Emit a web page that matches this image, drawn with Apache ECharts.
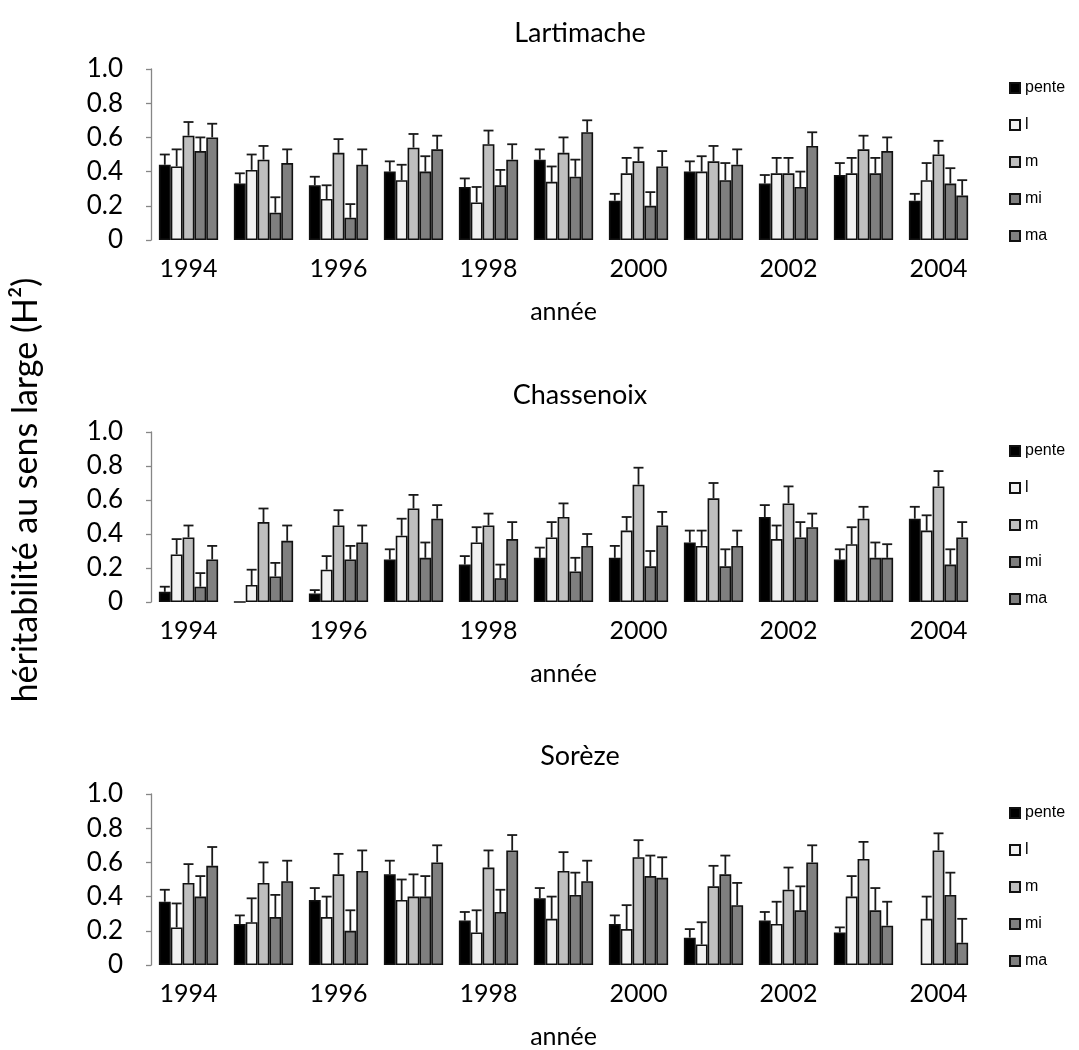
<!DOCTYPE html>
<html>
<head>
<meta charset="utf-8">
<script src="https://cdn.jsdelivr.net/npm/echarts@6/dist/echarts.min.js"></script>
<style>
  html, body { margin: 0; padding: 0; background: #fff; }
  #chart { width: 1079px; height: 1050px; }
</style>
</head>
<body>
<div id="chart"></div>
<script>
const years = ['1994', '1995', '1996', '1997', '1998', '1999', '2000', '2001', '2002', '2003', '2004'];
const seriesNames = ['pente', 'l', 'm', 'mi', 'ma'];
const sites = ['Lartimache', 'Chassenoix', 'Sorèze'];

// bar heights, one row per series (pente, l, m, mi, ma)
const lartVal = [
    [0.44, 0.33, 0.32, 0.40, 0.31, 0.47, 0.23, 0.40, 0.33, 0.38, 0.23],
    [0.43, 0.41, 0.24, 0.35, 0.22, 0.34, 0.39, 0.40, 0.39, 0.39, 0.35],
    [0.61, 0.47, 0.51, 0.54, 0.56, 0.51, 0.46, 0.46, 0.39, 0.53, 0.50],
    [0.52, 0.16, 0.13, 0.40, 0.32, 0.37, 0.20, 0.35, 0.31, 0.39, 0.33],
    [0.60, 0.45, 0.44, 0.53, 0.47, 0.63, 0.43, 0.44, 0.55, 0.52, 0.26],
];
// top of the error bar
const lartTop = [
    [0.50, 0.39, 0.37, 0.46, 0.36, 0.53, 0.27, 0.46, 0.38, 0.45, 0.27],
    [0.53, 0.50, 0.32, 0.44, 0.31, 0.43, 0.48, 0.49, 0.48, 0.48, 0.45],
    [0.69, 0.55, 0.59, 0.62, 0.64, 0.60, 0.54, 0.55, 0.48, 0.61, 0.58],
    [0.60, 0.25, 0.21, 0.49, 0.41, 0.47, 0.28, 0.45, 0.40, 0.48, 0.42],
    [0.68, 0.53, 0.53, 0.61, 0.56, 0.70, 0.52, 0.53, 0.63, 0.60, 0.35],
];

const chasVal = [
    [0.06, 0.00, 0.05, 0.25, 0.22, 0.26, 0.26, 0.35, 0.50, 0.25, 0.49],
    [0.28, 0.10, 0.19, 0.39, 0.35, 0.38, 0.42, 0.33, 0.37, 0.34, 0.42],
    [0.38, 0.47, 0.45, 0.55, 0.45, 0.50, 0.69, 0.61, 0.58, 0.49, 0.68],
    [0.09, 0.15, 0.25, 0.26, 0.14, 0.18, 0.21, 0.21, 0.38, 0.26, 0.22],
    [0.25, 0.36, 0.35, 0.49, 0.37, 0.33, 0.45, 0.33, 0.44, 0.26, 0.38],
];
const chasTop = [
    [0.09, null, 0.07, 0.31, 0.27, 0.32, 0.33, 0.42, 0.57, 0.31, 0.56],
    [0.37, 0.19, 0.27, 0.49, 0.44, 0.47, 0.50, 0.42, 0.45, 0.44, 0.51],
    [0.45, 0.55, 0.54, 0.63, 0.52, 0.58, 0.79, 0.70, 0.68, 0.56, 0.77],
    [0.17, 0.23, 0.33, 0.35, 0.22, 0.26, 0.30, 0.31, 0.47, 0.35, 0.31],
    [0.33, 0.45, 0.45, 0.57, 0.47, 0.40, 0.53, 0.42, 0.52, 0.34, 0.47],
];

const sorVal = [
    [0.37, 0.24, 0.38, 0.53, 0.26, 0.39, 0.24, 0.16, 0.26, 0.19, null],
    [0.22, 0.25, 0.28, 0.38, 0.19, 0.27, 0.21, 0.12, 0.24, 0.40, 0.27],
    [0.48, 0.48, 0.53, 0.40, 0.57, 0.55, 0.63, 0.46, 0.44, 0.62, 0.67],
    [0.40, 0.28, 0.20, 0.40, 0.31, 0.41, 0.52, 0.53, 0.32, 0.32, 0.41],
    [0.58, 0.49, 0.55, 0.60, 0.67, 0.49, 0.51, 0.35, 0.60, 0.23, 0.13],
];
const sorTop = [
    [0.44, 0.29, 0.45, 0.61, 0.31, 0.45, 0.29, 0.21, 0.31, 0.22, null],
    [0.36, 0.39, 0.40, 0.50, 0.32, 0.40, 0.35, 0.25, 0.37, 0.52, 0.40],
    [0.59, 0.60, 0.65, 0.53, 0.67, 0.66, 0.73, 0.58, 0.57, 0.72, 0.77],
    [0.52, 0.41, 0.32, 0.52, 0.44, 0.54, 0.64, 0.64, 0.46, 0.45, 0.54],
    [0.69, 0.61, 0.67, 0.70, 0.76, 0.61, 0.63, 0.48, 0.70, 0.37, 0.27],
];

const panelVals = [lartVal, chasVal, sorVal];
const panelTops = [lartTop, chasTop, sorTop];

const fills = ['#000000', '#f2f2f2', '#bfbfbf', '#7f7f7f', '#808080'];
const FONT = 'Lato';
const CAT_GAP = 0.21;

// panel layout: [top, height]
const panels = [[69, 171], [432, 170], [794, 172]];

const grid = panels.map(([top, height]) => ({ left: 151, width: 825, top, height }));

const xAxis = panels.map((p, i) => ({
    type: 'category',
    gridIndex: i,
    data: years,
    axisLine: { show: false },
    axisTick: { show: false },
    axisLabel: { interval: 1, fontFamily: FONT, fontSize: 25, color: '#000', margin: 16 },
    name: 'année',
    nameLocation: 'middle',
    nameGap: 59,
    nameTextStyle: { fontFamily: FONT, fontSize: 25, color: '#000' },
}));

const yAxis = panels.map((p, i) => ({
    type: 'value',
    gridIndex: i,
    min: 0, max: 1, interval: 0.2,
    axisLine: { show: true, lineStyle: { color: '#868686', width: 1.3 } },
    axisTick: { show: true, length: 5, lineStyle: { color: '#868686', width: 1.3 } },
    splitLine: { show: false },
    axisLabel: {
        fontFamily: FONT, fontSize: 26, color: '#000', margin: 28,
        formatter: v => (v === 0 ? '0' : v.toFixed(1)),
    },
}));

function errorRender(k) {
    return function (params, api) {
        const idx = api.value(0);
        const top = api.value(1);
        const val = api.value(2);
        if (top == null || isNaN(top)) return null;
        const band = api.size([1, 0])[0];
        const total = band * (1 - CAT_GAP);
        const each = total / 5;
        const p0 = api.coord([idx, val]);
        const p1 = api.coord([idx, top]);
        const cx = p0[0] - total / 2 + (k + 0.5) * each;
        const style = { stroke: '#1a1a1a', lineWidth: 1.8 };
        return {
            type: 'group',
            children: [
                { type: 'line', shape: { x1: cx, y1: p0[1], x2: cx, y2: p1[1] }, style },
                { type: 'line', shape: { x1: cx - 5, y1: p1[1], x2: cx + 5, y2: p1[1] }, style },
            ],
        };
    };
}

const series = [];
panelVals.forEach((vals, i) => {
    seriesNames.forEach((name, k) => {
        series.push({
            type: 'bar',
            name,
            xAxisIndex: i,
            yAxisIndex: i,
            data: vals[k],
            barGap: '0%',
            barCategoryGap: (CAT_GAP * 100) + '%',
            itemStyle: { color: fills[k], borderColor: '#111', borderWidth: 1.6 },
            emphasis: { disabled: true },
        });
    });
    seriesNames.forEach((name, k) => {
        series.push({
            type: 'custom',
            name: name + '-err' + i,
            xAxisIndex: i,
            yAxisIndex: i,
            z: 5,
            renderItem: errorRender(k),
            encode: { x: 0, y: [1, 2] },
            data: years.map((y, j) => [j, panelTops[i][k][j], vals[k][j]]),
        });
    });
});

const legend = panels.map(([top]) => ({
    orient: 'vertical',
    left: 1009,
    top: top + 11,
    padding: 0,
    data: seriesNames,
    itemWidth: 10,
    itemHeight: 10,
    itemGap: 21,
    icon: 'rect',
    selectedMode: false,
    textStyle: { fontFamily: 'Liberation Sans', fontSize: 16, color: '#000' },
}));

const title = sites.map((s, i) => ({
    text: s,
    left: 575,
    textAlign: 'center',
    top: [15, 377, 738][i],
    textStyle: { fontFamily: FONT, fontSize: 27, fontWeight: 'normal', color: '#000' },
}));

const chart = echarts.init(document.getElementById('chart'), null, { renderer: 'canvas' });
chart.setOption({
    backgroundColor: '#fff',
    animation: false,
    title,
    legend,
    grid,
    xAxis,
    yAxis,
    series,
    graphic: [{
        type: 'text',
        x: 26,
        y: 490,
        rotation: Math.PI / 2,
        style: {
            text: 'héritabilité au sens large (H²)',
            fontFamily: FONT,
            fontSize: 34,
            fill: '#000',
            align: 'center',
            verticalAlign: 'middle',
        },
    }],
});
window.addEventListener('resize', () => chart.resize());
</script>
</body>
</html>
